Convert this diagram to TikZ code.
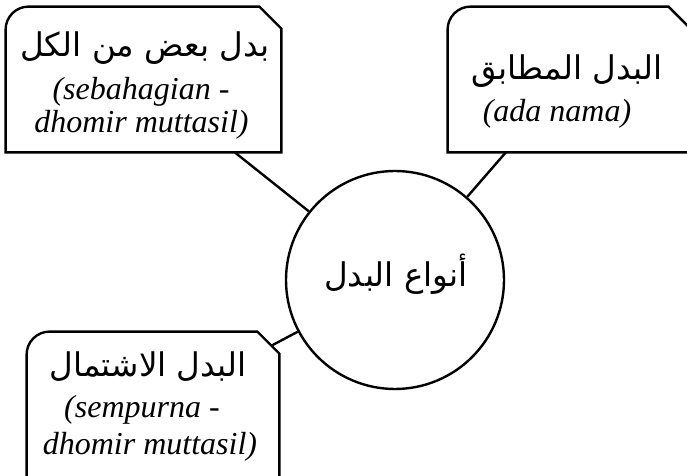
\documentclass[tikz,border=0pt]{standalone}
\usepackage{fontspec}
\setmainfont{Liberation Serif}
\newfontfamily\arabicfont[Script=Arabic]{DejaVu Sans}
\TeXXeTstate=1
\usetikzlibrary{calc}
\newcommand\cardframe[1]{%
  \draw[cardline] (#1.south west) -- ([shift={(0,23)}]#1.north west)
    .. controls ([shift={(0,10.3)}]#1.north west) and ([shift={(10.3,0)}]#1.north west) ..
    ([shift={(23,0)}]#1.north west) -- ([shift={(-22,0)}]#1.north east)
    -- ([shift={(0,22)}]#1.north east) -- (#1.south east) -- cycle;}
\begin{document}
\begin{tikzpicture}[x=0.5pt,y=-0.5pt,
  cardline/.style={line width=1.2pt, line join=miter},
  card/.style={rectangle, draw=none, inner sep=0pt},
  hub/.style={circle, draw, line width=1.2pt, inner sep=0pt, fill=white},
  ar/.style={font=\arabicfont\fontsize{16.3pt}{20pt}\selectfont, anchor=base, inner sep=0pt},
  lat/.style={font=\itshape\fontsize{16pt}{18pt}\selectfont, anchor=base, inner sep=0pt}]
\useasboundingbox (0,0) rectangle (687,476);
\clip (0,0) rectangle (687,476);
\fill[white] (0,0) rectangle (687,476);
% frames (invisible nodes)
\node[card, minimum width=137.5pt, minimum height=72.5pt] (b1) at (143.5,79.5) {};
\node[card, minimum width=121pt, minimum height=72.5pt] (b2) at (569,79.5) {};
\node[card, minimum width=126pt, minimum height=76.5pt] (b3) at (153,408.5) {};
\node[hub, minimum size=109pt] (c) at (395,280) {};
% connectors
\draw[cardline] (c) -- (b1);
\draw[cardline] (c) -- (b2);
\draw[cardline, shorten >=-4.6pt] (c) -- (b3);
% visible frames
\cardframe{b1}
\cardframe{b2}
\cardframe{b3}
% texts
\node[ar] (t1a) at (145,57) {\beginR بدل بعض من الكل\endR};
\node[lat] (t1b) at (141,100) {(sebahagian -};
\node[lat] (t1c) at (141.5,133) {dhomir muttasil)};
\node[ar] (t2a) at (567,80) {\beginR البدل المطابق\endR};
\node[lat] (t2b) at (557,122) {(ada nama)};
\node[ar] (t3a) at (148,377) {\beginR البدل الاشتمال\endR};
\node[lat] (t3b) at (142,418) {(sempurna -};
\node[lat] (t3c) at (150,455) {dhomir muttasil)};
\node[ar] (tc) at (396,287) {\beginR أنواع البدل\endR};
\end{tikzpicture}
\end{document}
